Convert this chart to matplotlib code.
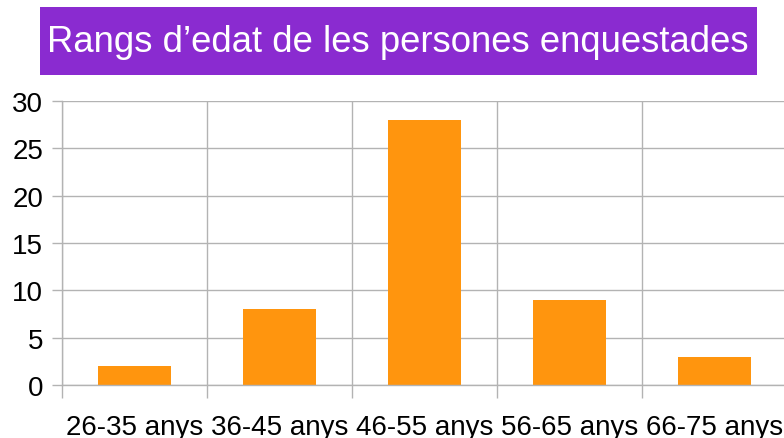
import numpy as np
import matplotlib
matplotlib.use('Agg')
import matplotlib.pyplot as plt
from matplotlib.patches import Rectangle

# data
categories = ['26-35 anys', '36-45 anys', '46-55 anys', '56-65 anys', '66-75 anys']
counts = [2, 8, 28, 9, 3]
title = 'Rangs d\u2019edat de les persones enquestades'

plt.rcParams['font.family'] = ['Liberation Sans', 'DejaVu Sans']

W, H = 784, 439
fig = plt.figure(figsize=(W / 100, H / 100), dpi=100)

# title box
fig.patches.append(Rectangle((40 / W, 1 - 76 / H), 717 / W, 68 / H,
                             transform=fig.transFigure, facecolor='#8A2BD0',
                             edgecolor='none', zorder=0))
fig.text(398 / W, 1 - 42 / H, title, color='white', fontsize=26.3,
         ha='center', va='center')

ax = fig.add_axes([62 / W, 1 - 386 / H, 725 / W, 284 / H])
grid_c = '#b3b3b3'

index = np.arange(len(categories))
ax.bar(index, counts, 0.5, color='#FF950E', zorder=2)

ax.set_xlim(-0.5, len(categories) - 0.5)
ax.set_ylim(0, 30)
ax.set_yticks(np.arange(0, 31, 5))
ax.set_xticks(index)
ax.set_xticklabels(categories)
ax.set_xticks(np.arange(-0.5, len(categories), 1), minor=True)

ax.grid(True, which='major', axis='y', color=grid_c, linewidth=1, zorder=0)
ax.grid(True, which='minor', axis='x', color=grid_c, linewidth=1, zorder=0)

for s in ['top', 'right']:
    ax.spines[s].set_visible(False)
for s in ['left', 'bottom']:
    ax.spines[s].set_color(grid_c)
    ax.spines[s].set_linewidth(1)

ax.tick_params(axis='y', which='major', length=7.5, color=grid_c, width=1,
               labelsize=20, pad=6)
ax.tick_params(axis='x', which='major', length=0, labelsize=20, pad=21)
ax.tick_params(axis='x', which='minor', length=9.5, color=grid_c, width=1)

fig.savefig('out.png', dpi=100)
